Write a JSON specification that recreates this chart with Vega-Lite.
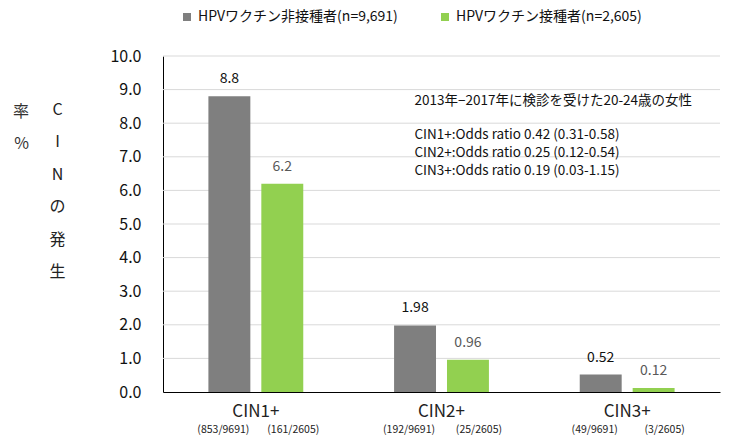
{
  "$schema": "https://vega.github.io/schema/vega-lite/v6.json",
  "width": 557,
  "height": 336,
  "autosize": {"type": "none"},
  "padding": {"left": 163, "top": 56, "right": 13, "bottom": 47},
  "background": "white",
  "config": {"font": "Noto Sans CJK JP", "view": {"stroke": null}},
  "title": {
    "text": ["率", "%"],
    "orient": "left",
    "anchor": "end",
    "angle": 0,
    "fontSize": 16,
    "fontWeight": "normal",
    "lineHeight": 32,
    "color": "#333333",
    "baseline": "top",
    "dy": 94,
    "offset": 4
  },
  "datasets": {
    "rates": [
      {"cat": "CIN1+", "group": "HPVワクチン非接種者(n=9,691)", "rate": 8.8, "count": "(853/9691)"},
      {"cat": "CIN1+", "group": "HPVワクチン接種者(n=2,605)", "rate": 6.2, "count": "(161/2605)"},
      {"cat": "CIN2+", "group": "HPVワクチン非接種者(n=9,691)", "rate": 1.98, "count": "(192/9691)"},
      {"cat": "CIN2+", "group": "HPVワクチン接種者(n=2,605)", "rate": 0.96, "count": "(25/2605)"},
      {"cat": "CIN3+", "group": "HPVワクチン非接種者(n=9,691)", "rate": 0.52, "count": "(49/9691)"},
      {"cat": "CIN3+", "group": "HPVワクチン接種者(n=2,605)", "rate": 0.12, "count": "(3/2605)"}
    ],
    "gridValues": [
      {"tick": 1}, {"tick": 2}, {"tick": 3}, {"tick": 4}, {"tick": 5},
      {"tick": 6}, {"tick": 7}, {"tick": 8}, {"tick": 9}, {"tick": 10}
    ]
  },
  "layer": [
    {
      "data": {"name": "gridValues"},
      "mark": {"type": "rule", "color": "#d9d9d9", "strokeWidth": 1},
      "encoding": {
        "y": {
          "field": "tick",
          "type": "quantitative",
          "scale": {"domain": [0, 10], "nice": false},
          "axis": {
            "values": [0, 1, 2, 3, 4, 5, 6, 7, 8, 9, 10],
            "format": ".1f",
            "ticks": false,
            "grid": false,
            "domainColor": "#000000",
            "labelFontSize": 16,
            "labelColor": "#111111",
            "labelPadding": 22,
            "title": ["C", "I", "N", "の", "発", "生"],
            "titleAngle": 0,
            "titleFontSize": 16,
            "titleFontWeight": "normal",
            "titleColor": "#222222",
            "titleLineHeight": 32.5,
            "titleAlign": "center",
            "titleBaseline": "top",
            "titleX": -106,
            "titleY": 45
          }
        }
      }
    },
    {
      "data": {"name": "rates"},
      "mark": {"type": "bar"},
      "encoding": {
        "x": {
          "field": "cat",
          "type": "nominal",
          "scale": {"paddingInner": 0, "paddingOuter": 0},
          "axis": {
            "title": null,
            "labelAngle": 0,
            "ticks": false,
            "domainColor": "#000000",
            "labelFontSize": 17,
            "labelPadding": 11,
            "labelColor": "#222222"
          }
        },
        "y": {
          "field": "rate",
          "type": "quantitative",
          "axis": {
            "values": [0, 1, 2, 3, 4, 5, 6, 7, 8, 9, 10],
            "format": ".1f",
            "ticks": false,
            "grid": false,
            "domainColor": "#000000",
            "labelFontSize": 16,
            "labelColor": "#111111",
            "labelPadding": 22,
            "title": ["C", "I", "N", "の", "発", "生"],
            "titleAngle": 0,
            "titleFontSize": 16,
            "titleFontWeight": "normal",
            "titleColor": "#222222",
            "titleLineHeight": 32.5,
            "titleAlign": "center",
            "titleBaseline": "top",
            "titleX": -106,
            "titleY": 45
          }
        },
        "xOffset": {
          "field": "group",
          "type": "nominal",
          "scale": {
            "domain": ["HPVワクチン非接種者(n=9,691)", "HPVワクチン接種者(n=2,605)"],
            "paddingInner": 0.2075,
            "paddingOuter": 0.858
          }
        },
        "color": {
          "field": "group",
          "type": "nominal",
          "scale": {
            "domain": ["HPVワクチン非接種者(n=9,691)", "HPVワクチン接種者(n=2,605)"],
            "range": ["#7f7f7f", "#92d050"]
          },
          "legend": {
            "orient": "none",
            "legendX": 17,
            "legendY": -46,
            "direction": "horizontal",
            "title": null,
            "symbolType": "square",
            "symbolSize": 64,
            "symbolStrokeWidth": 0,
            "labelFontSize": 14,
            "labelLimit": 0,
            "labelColor": "#111111",
            "labelOffset": 4,
            "columnPadding": 40,
            "padding": 0
          }
        }
      }
    },
    {
      "data": {"name": "rates"},
      "mark": {"type": "text", "fontSize": 14, "baseline": "middle", "dy": -17},
      "encoding": {
        "x": {"field": "cat", "type": "nominal"},
        "y": {
          "field": "rate",
          "type": "quantitative",
          "axis": {
            "values": [0, 1, 2, 3, 4, 5, 6, 7, 8, 9, 10],
            "format": ".1f",
            "ticks": false,
            "grid": false,
            "domainColor": "#000000",
            "labelFontSize": 16,
            "labelColor": "#111111",
            "labelPadding": 22,
            "title": ["C", "I", "N", "の", "発", "生"],
            "titleAngle": 0,
            "titleFontSize": 16,
            "titleFontWeight": "normal",
            "titleColor": "#222222",
            "titleLineHeight": 32.5,
            "titleAlign": "center",
            "titleBaseline": "top",
            "titleX": -106,
            "titleY": 45
          }
        },
        "xOffset": {"field": "group", "type": "nominal"},
        "text": {"field": "rate", "type": "quantitative"},
        "color": {
          "condition": {"test": "datum.group === 'HPVワクチン非接種者(n=9,691)'", "value": "#111111"},
          "value": "#595959"
        }
      }
    },
    {
      "data": {"name": "rates"},
      "transform": [{"filter": "datum.group === 'HPVワクチン非接種者(n=9,691)'"}],
      "mark": {"type": "text", "fontSize": 10.5, "baseline": "middle", "dx": -6, "color": "#222222"},
      "encoding": {
        "x": {"field": "cat", "type": "nominal"},
        "xOffset": {"field": "group", "type": "nominal"},
        "y": {
          "datum": -1.13,
          "axis": {
            "values": [0, 1, 2, 3, 4, 5, 6, 7, 8, 9, 10],
            "format": ".1f",
            "ticks": false,
            "grid": false,
            "domainColor": "#000000",
            "labelFontSize": 16,
            "labelColor": "#111111",
            "labelPadding": 22,
            "title": ["C", "I", "N", "の", "発", "生"],
            "titleAngle": 0,
            "titleFontSize": 16,
            "titleFontWeight": "normal",
            "titleColor": "#222222",
            "titleLineHeight": 32.5,
            "titleAlign": "center",
            "titleBaseline": "top",
            "titleX": -106,
            "titleY": 45
          }
        },
        "text": {"field": "count"}
      }
    },
    {
      "data": {"name": "rates"},
      "transform": [{"filter": "datum.group === 'HPVワクチン接種者(n=2,605)'"}],
      "mark": {"type": "text", "fontSize": 10.5, "baseline": "middle", "dx": 11, "color": "#222222"},
      "encoding": {
        "x": {"field": "cat", "type": "nominal"},
        "xOffset": {"field": "group", "type": "nominal"},
        "y": {
          "datum": -1.13,
          "axis": {
            "values": [0, 1, 2, 3, 4, 5, 6, 7, 8, 9, 10],
            "format": ".1f",
            "ticks": false,
            "grid": false,
            "domainColor": "#000000",
            "labelFontSize": 16,
            "labelColor": "#111111",
            "labelPadding": 22,
            "title": ["C", "I", "N", "の", "発", "生"],
            "titleAngle": 0,
            "titleFontSize": 16,
            "titleFontWeight": "normal",
            "titleColor": "#222222",
            "titleLineHeight": 32.5,
            "titleAlign": "center",
            "titleBaseline": "top",
            "titleX": -106,
            "titleY": 45
          }
        },
        "text": {"field": "count"}
      }
    },
    {
      "data": {"name": "rates"},
      "transform": [{"filter": "datum.cat === 'CIN2+' && datum.group === 'HPVワクチン非接種者(n=9,691)'"}],
      "mark": {"type": "text", "fontSize": 13.5, "align": "left", "baseline": "top", "dx": -27, "color": "#111111"},
      "encoding": {
        "x": {"field": "cat", "type": "nominal"},
        "y": {
          "datum": 8.86,
          "axis": {
            "values": [0, 1, 2, 3, 4, 5, 6, 7, 8, 9, 10],
            "format": ".1f",
            "ticks": false,
            "grid": false,
            "domainColor": "#000000",
            "labelFontSize": 16,
            "labelColor": "#111111",
            "labelPadding": 22,
            "title": ["C", "I", "N", "の", "発", "生"],
            "titleAngle": 0,
            "titleFontSize": 16,
            "titleFontWeight": "normal",
            "titleColor": "#222222",
            "titleLineHeight": 32.5,
            "titleAlign": "center",
            "titleBaseline": "top",
            "titleX": -106,
            "titleY": 45
          }
        },
        "text": {"value": "2013年−2017年に検診を受けた20-24歳の女性"}
      }
    },
    {
      "data": {"name": "rates"},
      "transform": [{"filter": "datum.cat === 'CIN2+' && datum.group === 'HPVワクチン非接種者(n=9,691)'"}],
      "mark": {"type": "text", "fontSize": 13.5, "lineHeight": 18, "align": "left", "baseline": "top", "dx": -27, "color": "#111111"},
      "encoding": {
        "x": {"field": "cat", "type": "nominal"},
        "y": {
          "datum": 7.86,
          "axis": {
            "values": [0, 1, 2, 3, 4, 5, 6, 7, 8, 9, 10],
            "format": ".1f",
            "ticks": false,
            "grid": false,
            "domainColor": "#000000",
            "labelFontSize": 16,
            "labelColor": "#111111",
            "labelPadding": 22,
            "title": ["C", "I", "N", "の", "発", "生"],
            "titleAngle": 0,
            "titleFontSize": 16,
            "titleFontWeight": "normal",
            "titleColor": "#222222",
            "titleLineHeight": 32.5,
            "titleAlign": "center",
            "titleBaseline": "top",
            "titleX": -106,
            "titleY": 45
          }
        },
        "text": {"value": [
          "CIN1+:Odds ratio 0.42 (0.31-0.58)",
          "CIN2+:Odds ratio 0.25 (0.12-0.54)",
          "CIN3+:Odds ratio 0.19 (0.03-1.15)"
        ]}
      }
    }
  ]
}
